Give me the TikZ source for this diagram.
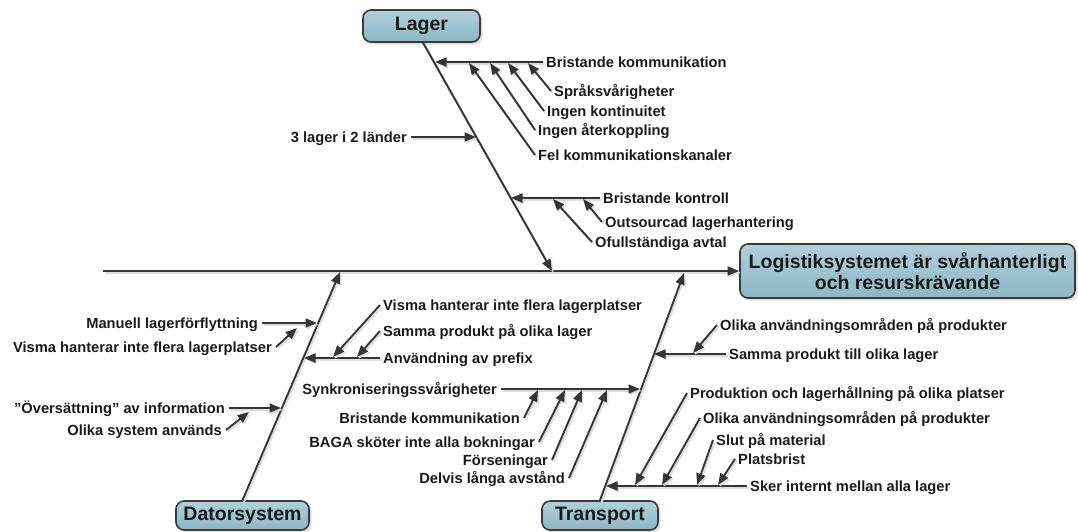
\documentclass[tikz,border=0pt]{standalone}
\usepackage{fontspec}
\setmainfont{Liberation Sans}
\usetikzlibrary{arrows.meta,shadows}
\definecolor{ink}{HTML}{353535}
\definecolor{txt}{HTML}{1A1A1A}
\definecolor{boxtop}{HTML}{AFD0DA}
\definecolor{boxbot}{HTML}{8EB6C4}
\definecolor{boxline}{HTML}{3A3A3A}

\begin{document}
\begin{tikzpicture}[x=1pt,y=-1pt,
  bone/.style={draw=ink, line width=1.9pt,
    -{Triangle[length=11.5pt,width=9pt]},
    preaction={draw=black!13, line width=1.9pt,
      transform canvas={shift={(1.6pt,-1.8pt)}}}},
  lbl/.style={font=\fontsize{14.7pt}{17pt}\selectfont\bfseries, text=txt,
    inner sep=0pt, text height=10.5pt, text depth=0pt},
  catbox/.style={draw=boxline, line width=1.6pt, rounded corners=8pt,
    top color=boxtop, bottom color=boxbot, text=txt,
    font=\fontsize{19.5pt}{21.5pt}\selectfont\bfseries,
    drop shadow={shadow xshift=2.5pt, shadow yshift=-2.5pt, opacity=0.25}}
]
\useasboundingbox (0,0) rectangle (1078,531);

% ---------- head and spine ----------
\node[catbox, minimum width=335pt, minimum height=54pt, align=center, inner sep=2pt]
  (effect) at (907.5,271) {Logistiksystemet är svårhanterligt\\och resurskrävande};
\coordinate (spineStart) at (103,271);
\draw[bone] (spineStart) -- (effect.west);

% ---------- category boxes and main bones ----------
\node[catbox, minimum width=117pt, minimum height=32pt] (lager) at (421.5,26) {Lager};
\coordinate (lagerEnd) at (552,271);
\draw[bone] ([xshift=1.5pt]lager.south) -- (lagerEnd);

\node[catbox, minimum width=133pt, minimum height=29pt] (dator) at (242.5,515.5) {Datorsystem};
\coordinate (datorEnd) at (340,272);
\draw[bone] (dator.north) -- (datorEnd);

\node[catbox, minimum width=116pt, minimum height=29pt] (transport) at (600,515.5) {Transport};
\coordinate (transportEnd) at (684,273);
\draw[bone] (transport.north) -- (transportEnd);

% ---------- Lager ----------
\node[lbl, anchor=west] (la) at (546,62) {Bristande kommunikation};
\coordinate (laTip) at (435,62);
\draw[bone] ([xshift=-3pt]la.west) -- (laTip);

\node[lbl, anchor=west] (la1) at (554,91) {Språksvårigheter};
\node[lbl, anchor=west] (la2) at (547,111) {Ingen kontinuitet};
\node[lbl, anchor=west] (la3) at (538,130) {Ingen återkoppling};
\node[lbl, anchor=west] (la4) at (538,155) {Fel kommunikationskanaler};
\coordinate (la1Tip) at (528,63);
\coordinate (la2Tip) at (508,63);
\coordinate (la3Tip) at (490,63);
\coordinate (la4Tip) at (469,63);
\draw[bone] ([xshift=-3pt]la1.west) -- (la1Tip);
\draw[bone] ([xshift=-3pt]la2.west) -- (la2Tip);
\draw[bone] ([xshift=-3pt]la3.west) -- (la3Tip);
\draw[bone] ([xshift=-3pt]la4.west) -- (la4Tip);

\node[lbl, anchor=east] (lb) at (407,137) {3 lager i 2 länder};
\coordinate (lbTip) at (476,137);
\draw[bone] ([xshift=4pt]lb.east) -- (lbTip);

\node[lbl, anchor=west] (lc) at (603,198) {Bristande kontroll};
\coordinate (lcTip) at (511,198);
\draw[bone] ([xshift=-3pt]lc.west) -- (lcTip);

\node[lbl, anchor=west] (lc1) at (605,222) {Outsourcad lagerhantering};
\node[lbl, anchor=west] (lc2) at (595,242) {Ofullständiga avtal};
\coordinate (lc1Tip) at (583,199);
\coordinate (lc2Tip) at (553,199);
\draw[bone] ([xshift=-3pt]lc1.west) -- (lc1Tip);
\draw[bone] ([xshift=-3pt]lc2.west) -- (lc2Tip);

% ---------- Datorsystem ----------
\node[lbl, anchor=east] (da) at (258,323) {Manuell lagerförflyttning};
\coordinate (daTip) at (317,323);
\draw[bone] ([xshift=4pt]da.east) -- (daTip);

\node[lbl, anchor=east] (db) at (272,347) {Visma hanterar inte flera lagerplatser};
\coordinate (dbTip) at (297,328);
\draw[bone] ([xshift=4pt]db.east) -- (dbTip);

\node[lbl, anchor=east] (dc) at (225,408) {"Översättning" av information};
\coordinate (dcTip) at (281,408);
\draw[bone] ([xshift=4pt]dc.east) -- (dcTip);

\node[lbl, anchor=east] (dd) at (222,430) {Olika system används};
\coordinate (ddTip) at (249,412);
\draw[bone] ([xshift=4pt]dd.east) -- (ddTip);

\node[lbl, anchor=west] (de) at (383,358) {Användning av prefix};
\coordinate (deTip) at (304,358);
\draw[bone] ([xshift=-3pt]de.west) -- (deTip);

\node[lbl, anchor=west] (de1) at (383,305) {Visma hanterar inte flera lagerplatser};
\node[lbl, anchor=west] (de2) at (383,331) {Samma produkt på olika lager};
\coordinate (de1Tip) at (333,357);
\coordinate (de2Tip) at (357,357);
\draw[bone] ([xshift=-3pt]de1.west) -- (de1Tip);
\draw[bone] ([xshift=-3pt]de2.west) -- (de2Tip);

% ---------- Transport ----------
\node[lbl, anchor=east] (ta) at (497,389) {Synkroniseringssvårigheter};
\coordinate (taTip) at (640,389);
\draw[bone] ([xshift=4pt]ta.east) -- (taTip);

\node[lbl, anchor=east] (ta1) at (520,418) {Bristande kommunikation};
\node[lbl, anchor=east] (ta2) at (535,442) {BAGA sköter inte alla bokningar};
\node[lbl, anchor=east] (ta3) at (548,460) {Förseningar};
\node[lbl, anchor=east] (ta4) at (565,478) {Delvis långa avstånd};
\coordinate (ta1Tip) at (538,390);
\coordinate (ta2Tip) at (565,390);
\coordinate (ta3Tip) at (582,390);
\coordinate (ta4Tip) at (607,390);
\draw[bone] ([xshift=4pt]ta1.east) -- (ta1Tip);
\draw[bone] ([xshift=4pt]ta2.east) -- (ta2Tip);
\draw[bone] ([xshift=4pt]ta3.east) -- (ta3Tip);
\draw[bone] ([xshift=4pt]ta4.east) -- (ta4Tip);

\node[lbl, anchor=west] (tb) at (729,354) {Samma produkt till olika lager};
\coordinate (tbTip) at (654,354);
\draw[bone] ([xshift=-3pt]tb.west) -- (tbTip);

\node[lbl, anchor=west] (tb1) at (720,325) {Olika användningsområden på produkter};
\coordinate (tb1Tip) at (693,353);
\draw[bone] ([xshift=-3pt]tb1.west) -- (tb1Tip);

\node[lbl, anchor=west] (tc) at (750,486) {Sker internt mellan alla lager};
\coordinate (tcTip) at (606,486);
\draw[bone] ([xshift=-3pt]tc.west) -- (tcTip);

\node[lbl, anchor=west] (tc1) at (690,393) {Produktion och lagerhållning på olika platser};
\node[lbl, anchor=west] (tc2) at (703,418) {Olika användningsområden på produkter};
\node[lbl, anchor=west] (tc3) at (716,440) {Slut på material};
\node[lbl, anchor=west] (tc4) at (738,459) {Platsbrist};
\coordinate (tc1Tip) at (635,485);
\coordinate (tc2Tip) at (662,485);
\coordinate (tc3Tip) at (697,485);
\coordinate (tc4Tip) at (718,485);
\draw[bone] ([xshift=-3pt]tc1.west) -- (tc1Tip);
\draw[bone] ([xshift=-3pt]tc2.west) -- (tc2Tip);
\draw[bone] ([xshift=-3pt]tc3.west) -- (tc3Tip);
\draw[bone] ([xshift=-3pt]tc4.west) -- (tc4Tip);
\end{tikzpicture}
\end{document}
